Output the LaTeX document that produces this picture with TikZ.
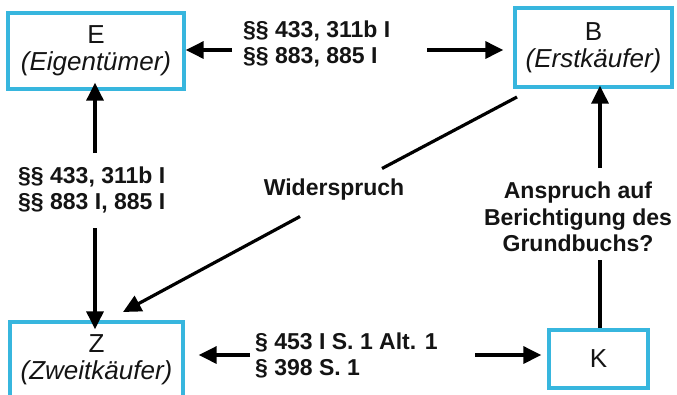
\documentclass[tikz,border=0pt]{standalone}
\usepackage{fontspec}
\setmainfont{Liberation Sans}
\usetikzlibrary{arrows.meta}
\definecolor{boxcyan}{RGB}{55,182,222}
\definecolor{txt}{RGB}{20,20,20}
\tikzset{
  box/.style={draw=boxcyan, line width=3.3pt, align=center, inner sep=0pt, text=txt,
    font=\fontsize{26}{27}\selectfont},
  arr/.style={line width=3.2pt, -{Triangle[length=18pt,width=17pt]}},
  ln/.style={line width=3.2pt},
  lbl/.style={font=\bfseries\fontsize{23}{26}\selectfont, align=left, inner sep=0pt, text=txt},
  clbl/.style={font=\bfseries\fontsize{23}{26.5}\selectfont, align=center, inner sep=0pt, text=txt}
}
\begin{document}
\begin{tikzpicture}[x=1pt,y=-1pt]
\useasboundingbox[fill=white] (0,0) rectangle (677,394);

\node[box, minimum width=176pt, minimum height=76pt] (E) at (96,51) {E\\\itshape (Eigentümer)};
\node[box, minimum width=157pt, minimum height=79pt] (B) at (593.5,47.5) {B\\\itshape (Erstkäufer)};
\node[box, minimum width=173pt, minimum height=75pt] (Z) at (96.5,359.5) {Z\\\itshape (Zweitkäufer)};
\node[box, minimum width=99pt, minimum height=58pt] (K) at (598.5,359) {K};

\node[lbl, anchor=west] (l1) at (243,44) {§§ 433, 311b I\\§§ 883, 885 I};
\node[lbl, anchor=west] (l2) at (18,190) {§§ 433, 311b I\\§§ 883 I, 885 I};
\node[lbl, anchor=west] (l3) at (255,355) {§ 453 I S. 1 Alt. 1\\§ 398 S. 1};
\node[clbl] (wid) at (334,190) {Widerspruch};
\node[clbl] (ans) at (578,217) {Anspruch auf\\Berichtigung des\\Grundbuchs?};

% top arrows
\coordinate (t1) at (232,50);
\coordinate (t2) at (427,50);
\draw[arr] (t1) -- (t1 -| E.east);
\draw[arr] (t2) -- ([xshift=-10pt]t2 -| B.west);

% left vertical arrows
\coordinate (v1) at (95,153);
\coordinate (v2) at (95,228);
\draw[arr] (v1) -- ([yshift=8pt]v1 |- E.south);
\draw[arr] (v2) -- ([yshift=-9pt]v2 |- Z.north);

% diagonal
\coordinate (d1) at (517,97);
\coordinate (d2) at (382,168.5);
\coordinate (d3) at (300,216.5);
\coordinate (d4) at (123,312);
\draw[ln] (d1) -- (d2);
\draw[arr] (d3) -- (d4);

% right vertical
\coordinate (r1) at (600,168);
\coordinate (r2) at (600,260);
\draw[arr] (r1) -- ([yshift=3pt]r1 |- B.south);
\draw[ln] (r2) -- (r2 |- K.north);

% bottom arrows
\coordinate (b1) at (250,355);
\coordinate (b2) at (475,355);
\draw[arr] (b1) -- ([xshift=14pt]b1 -| Z.east);
\draw[arr] (b2) -- ([xshift=-6pt]b2 -| K.west);
\end{tikzpicture}
\end{document}
